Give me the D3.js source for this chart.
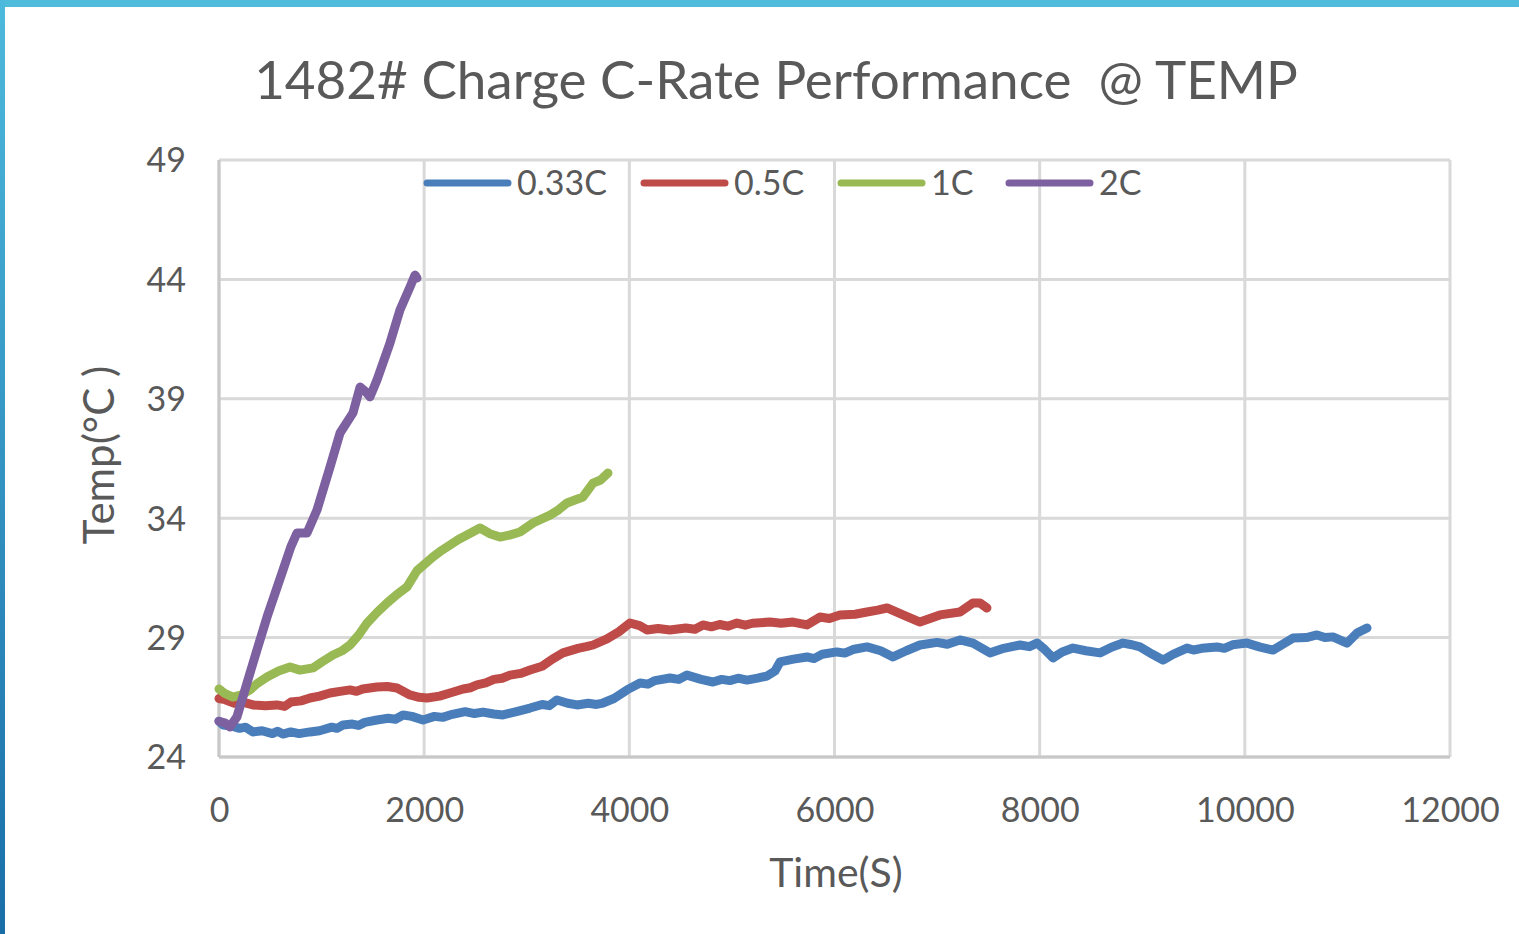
<!DOCTYPE html>
<html>
<head>
<meta charset="utf-8">
<script src="https://cdn.jsdelivr.net/npm/d3@7"></script>
<style>
  html, body { margin: 0; padding: 0; background: #ffffff; }
  svg { display: block; }
</style>
</head>
<body>
<svg id="chart" width="1519" height="934"></svg>
<script>
const chartTitle = "1482# Charge C-Rate Performance  @ TEMP";
const xTitle = "Time(S)";
const yTitle = "Temp(°C )";
const seriesNames = ["0.33C", "0.5C", "1C", "2C"];
const xTicks = [0, 2000, 4000, 6000, 8000, 10000, 12000];
const yTicks = [24, 29, 34, 39, 44, 49];

// [time (s), temperature (°C)]
const c033 = [[0,25.5],[40,25.34],[120,25.3],[200,25.2],[260,25.25],[331,25.05],[420,25.1],[520,24.98],[570,25.08],[624,24.96],[700,25.05],[780,24.98],[887,25.05],[980,25.1],[1100,25.25],[1150,25.2],[1209,25.34],[1300,25.38],[1360,25.32],[1420,25.45],[1540,25.55],[1650,25.62],[1720,25.58],[1794,25.76],[1880,25.7],[1989,25.55],[2100,25.7],[2180,25.66],[2252,25.76],[2400,25.9],[2490,25.82],[2573,25.88],[2680,25.8],[2768,25.76],[2900,25.9],[3032,26.05],[3150,26.2],[3220,26.15],[3295,26.39],[3400,26.25],[3490,26.18],[3600,26.25],[3680,26.2],[3743,26.26],[3850,26.45],[3977,26.81],[4104,27.10],[4180,27.05],[4250,27.2],[4396,27.31],[4480,27.25],[4562,27.43],[4700,27.25],[4815,27.14],[4900,27.25],[4980,27.2],[5060,27.3],[5147,27.22],[5250,27.3],[5342,27.39],[5420,27.6],[5469,27.98],[5600,28.1],[5732,28.19],[5800,28.12],[5880,28.3],[6024,28.40],[6100,28.35],[6180,28.5],[6317,28.61],[6450,28.45],[6570,28.19],[6700,28.45],[6833,28.69],[7000,28.8],[7100,28.72],[7223,28.90],[7350,28.77],[7516,28.36],[7650,28.55],[7808,28.69],[7900,28.62],[7974,28.77],[8050,28.5],[8130,28.15],[8220,28.4],[8325,28.56],[8450,28.45],[8588,28.36],[8700,28.6],[8812,28.77],[8900,28.7],[8978,28.61],[9100,28.3],[9202,28.06],[9300,28.3],[9436,28.56],[9500,28.48],[9580,28.55],[9729,28.61],[9800,28.55],[9880,28.7],[10021,28.77],[10150,28.6],[10274,28.48],[10380,28.75],[10469,28.98],[10600,29.0],[10703,29.11],[10780,29.0],[10859,29.03],[10996,28.77],[11093,29.19],[11191,29.40]];
const c05 = [[0,26.45],[60,26.4],[150,26.25],[250,26.28],[331,26.18],[450,26.15],[565,26.18],[640,26.12],[700,26.3],[800,26.35],[887,26.47],[980,26.55],[1082,26.68],[1180,26.75],[1277,26.81],[1340,26.75],[1400,26.85],[1540,26.93],[1640,26.95],[1735,26.89],[1862,26.60],[1950,26.5],[2028,26.47],[2150,26.55],[2252,26.68],[2380,26.85],[2450,26.9],[2515,27.02],[2600,27.1],[2680,27.25],[2760,27.3],[2837,27.43],[2940,27.5],[3032,27.64],[3150,27.8],[3250,28.1],[3353,28.36],[3500,28.55],[3580,28.62],[3646,28.69],[3782,28.95],[3900,29.25],[4006,29.61],[4100,29.5],[4172,29.32],[4280,29.38],[4396,29.32],[4550,29.4],[4640,29.35],[4718,29.53],[4800,29.45],[4880,29.55],[4960,29.48],[5049,29.61],[5130,29.52],[5200,29.6],[5371,29.65],[5480,29.6],[5595,29.65],[5732,29.53],[5858,29.86],[5950,29.8],[6053,29.95],[6200,29.98],[6317,30.07],[6420,30.15],[6512,30.24],[6668,29.95],[6833,29.65],[6930,29.8],[7028,29.95],[7223,30.07],[7350,30.45],[7418,30.45],[7486,30.24]];
const c1 = [[0,26.85],[60,26.65],[136,26.51],[220,26.6],[302,26.81],[380,27.1],[468,27.35],[580,27.6],[692,27.77],[790,27.64],[916,27.73],[1010,28.0],[1111,28.27],[1200,28.45],[1277,28.69],[1360,29.1],[1443,29.61],[1540,30.05],[1638,30.45],[1733,30.8],[1833,31.12],[1930,31.8],[2086,32.38],[2170,32.65],[2252,32.88],[2330,33.1],[2417,33.30],[2544,33.59],[2640,33.35],[2739,33.21],[2840,33.3],[2934,33.42],[3061,33.80],[3227,34.13],[3310,34.35],[3392,34.64],[3548,34.89],[3600,35.2],[3646,35.47],[3720,35.6],[3792,35.89]];
const c2 = [[0,25.5],[60,25.42],[107,25.26],[175,25.68],[273,27.10],[370,28.48],[468,29.86],[624,31.83],[700,32.8],[760,33.38],[858,33.38],[955,34.34],[1082,36.14],[1180,37.57],[1306,38.41],[1375,39.49],[1430,39.3],[1472,39.08],[1540,39.79],[1667,41.34],[1764,42.72],[1862,43.68],[1911,44.18],[1930,44.06]];

const seriesData = [c033, c05, c1, c2];
const colors = ["#4a7ebb", "#be4b48", "#98b954", "#7d60a0"];

const svg = d3.select("#chart");
const FONT = "Lato, 'Open Sans', sans-serif";
const TXT = "#595959";

// frame decoration
const defs = svg.append("defs");
const grad = defs.append("linearGradient").attr("id", "edge").attr("x1", 0).attr("y1", 0).attr("x2", 0).attr("y2", 1);
grad.append("stop").attr("offset", "0%").attr("stop-color", "#4db9dc");
grad.append("stop").attr("offset", "100%").attr("stop-color", "#1a6ea8");
svg.append("rect").attr("x", 0).attr("y", 0).attr("width", 1519).attr("height", 7).attr("fill", "#50bcdc");
svg.append("rect").attr("x", 0).attr("y", 0).attr("width", 5).attr("height", 934).attr("fill", "url(#edge)");

const x = d3.scaleLinear().domain([0, 12000]).range([219, 1450]);
const y = d3.scaleLinear().domain([24, 49]).range([757, 160]);

// gridlines
const grid = svg.append("g");
grid.selectAll("line.h").data(yTicks).join("line")
  .attr("x1", x(0)).attr("x2", x(12000))
  .attr("y1", d => y(d)).attr("y2", d => y(d))
  .attr("stroke", "#d9d9d9").attr("stroke-width", 3);
grid.selectAll("line.v").data(xTicks).join("line")
  .attr("x1", d => x(d)).attr("x2", d => x(d))
  .attr("y1", y(24)).attr("y2", y(49))
  .attr("stroke", "#d9d9d9").attr("stroke-width", 3);
// axis lines
svg.append("line").attr("x1", x(0)).attr("x2", x(12000)).attr("y1", y(24)).attr("y2", y(24))
  .attr("stroke", "#c8c8c8").attr("stroke-width", 3);
svg.append("line").attr("x1", x(0)).attr("x2", x(0)).attr("y1", y(24)).attr("y2", y(49))
  .attr("stroke", "#c8c8c8").attr("stroke-width", 3);

// axes (labels only)
const xAxis = d3.axisBottom(x).tickValues(xTicks).tickSize(0).tickPadding(0).tickFormat(d3.format("d"));
const gx = svg.append("g").attr("transform", `translate(0, ${y(24)})`).call(xAxis);
gx.select(".domain").remove();
gx.selectAll("text").attr("dy", null).attr("y", 65).attr("font-family", FONT).attr("font-size", 34).attr("fill", TXT);

const yAxis = d3.axisLeft(y).tickValues(yTicks).tickSize(0).tickPadding(0);
const gy = svg.append("g").attr("transform", `translate(186, 0)`).call(yAxis);
gy.select(".domain").remove();
gy.selectAll("text").attr("dy", "0.35em").attr("x", 0).attr("font-family", FONT).attr("font-size", 34).attr("fill", TXT);

// lines
const line = d3.line().x(d => x(d[0])).y(d => y(d[1])).curve(d3.curveLinear);
svg.append("g").selectAll("path").data(seriesData).join("path")
  .attr("d", line)
  .attr("fill", "none")
  .attr("stroke", (d, i) => colors[i])
  .attr("stroke-width", 9)
  .attr("stroke-linejoin", "round")
  .attr("stroke-linecap", "round");

// title
svg.append("text").attr("x", 776).attr("y", 99).attr("text-anchor", "middle")
  .style("white-space", "pre")
  .attr("font-family", FONT).attr("font-size", 53).attr("fill", TXT).text(chartTitle);

// axis titles
svg.append("text").attr("x", 836).attr("y", 887).attr("text-anchor", "middle")
  .attr("font-family", FONT).attr("font-size", 41).attr("fill", TXT).text(xTitle);
svg.append("text").attr("transform", "translate(114, 455) rotate(-90)").attr("text-anchor", "middle")
  .style("white-space", "pre")
  .attr("font-family", FONT).attr("font-size", 42).attr("fill", TXT).text(yTitle);

// legend
const legendX = [424, 641, 838, 1006];
const lg = svg.append("g");
seriesNames.forEach((name, i) => {
  lg.append("line").attr("x1", legendX[i] + 3).attr("x2", legendX[i] + 84).attr("y1", 183).attr("y2", 183)
    .attr("stroke", colors[i]).attr("stroke-width", 7).attr("stroke-linecap", "round");
  lg.append("text").attr("x", legendX[i] + 93).attr("y", 183).attr("dy", "0.35em")
    .attr("font-family", FONT).attr("font-size", 34).attr("fill", TXT).text(name);
});
</script>
</body>
</html>
